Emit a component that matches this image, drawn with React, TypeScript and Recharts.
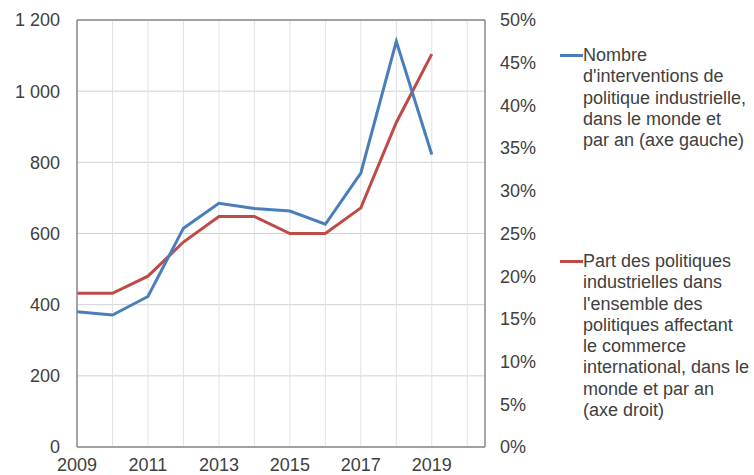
import React from 'react';
import { LineChart, Line, XAxis, YAxis, CartesianGrid, ReferenceLine } from 'recharts';

const years = [2009, 2010, 2011, 2012, 2013, 2014, 2015, 2016, 2017, 2018, 2019];
const interventions = [380, 371, 423, 615, 685, 670, 663, 626, 770, 1140, 822];
const sharePct = [18, 18, 20, 24, 27, 27, 25, 25, 28, 38, 46];
const leftTicks = [0, 200, 400, 600, 800, 1000, 1200];
const rightTicks = [0, 5, 10, 15, 20, 25, 30, 35, 40, 45, 50];
const xTickLabels = [2009, 2011, 2013, 2015, 2017, 2019];
const gridYears = [2009, 2010, 2011, 2012, 2013, 2014, 2015, 2016, 2017, 2018, 2019, 2020];
const legendLinesBlue = ["Nombre", "d'interventions de", "politique industrielle,", "dans le monde et", "par an (axe gauche)"];
const legendLinesRed = ["Part des politiques", "industrielles dans", "l'ensemble des", "politiques affectant", "le commerce", "international, dans le", "monde et par an", "(axe droit)"];

const BLUE = '#4A7EBB';
const RED = '#BE4B48';
const TEXT = '#404040';
const AXIS = '#8a8a8a';
const FONT = '"Liberation Sans", Arial, sans-serif';

const data = years.map((y, i) => ({ year: y, interventions: interventions[i], share: sharePct[i] }));

const fmtLeft = (v: number) => {
  if (v >= 1000) {
    return `${Math.floor(v / 1000)} ${String(v % 1000).padStart(3, '0')}`;
  }
  return String(v);
};

const LegendBlock = ({ top, color, lines }: { top: number; color: string; lines: string[] }) => (
  <div style={{ position: 'absolute', left: 560, top, fontFamily: FONT, fontSize: 18, lineHeight: '21.3px', color: TEXT, whiteSpace: 'nowrap' }}>
    <div style={{ position: 'absolute', left: 0, top: 9, width: 23, height: 3, background: color }} />
    <div style={{ marginLeft: 23 }}>
      {lines.map((l, i) => (
        <div key={i}>{l}</div>
      ))}
    </div>
  </div>
);

export default function App() {
  return (
    <div style={{ position: 'absolute', left: 0, top: 0, width: 754, height: 475, background: '#fff', overflow: 'hidden' }}>
      <LineChart width={754} height={475} data={data} margin={{ top: 20, right: 209, bottom: 0, left: 0 }}>
        <CartesianGrid yAxisId="left" vertical={false} stroke="#d2d2d2" horizontalValues={leftTicks} />
        <CartesianGrid yAxisId="left" horizontal={false} stroke="#e2e2e2" verticalValues={gridYears} />
        <XAxis
          dataKey="year"
          type="number"
          domain={[2009, 2020.5]}
          ticks={xTickLabels}
          interval={0}
          height={28}
          tickSize={0}
          tickMargin={11}
          axisLine={{ stroke: AXIS, strokeWidth: 1.5 }}
          tick={{ fill: TEXT, fontSize: 18, fontFamily: FONT }}
          allowDataOverflow
        />
        <YAxis
          yAxisId="left"
          orientation="left"
          domain={[0, 1200]}
          ticks={leftTicks}
          interval={0}
          width={77}
          tickSize={0}
          tickMargin={17}
          tickFormatter={fmtLeft}
          axisLine={{ stroke: AXIS, strokeWidth: 1.5 }}
          tick={{ fill: TEXT, fontSize: 18, fontFamily: FONT }}
        />
        <YAxis
          yAxisId="right"
          orientation="right"
          domain={[0, 50]}
          ticks={rightTicks}
          interval={0}
          width={60}
          tickSize={0}
          tickMargin={15}
          tickFormatter={(v: number) => `${v}%`}
          axisLine={{ stroke: AXIS, strokeWidth: 1.5 }}
          tick={{ fill: TEXT, fontSize: 18, fontFamily: FONT, textAnchor: 'start' }}
        />
        <ReferenceLine yAxisId="left" y={1200} stroke={AXIS} strokeWidth={1.5} />
        <Line
          yAxisId="right"
          type="linear"
          dataKey="share"
          stroke={RED}
          strokeWidth={3}
          dot={false}
          isAnimationActive={false}
        />
        <Line
          yAxisId="left"
          type="linear"
          dataKey="interventions"
          stroke={BLUE}
          strokeWidth={3}
          dot={false}
          isAnimationActive={false}
        />
      </LineChart>
      <LegendBlock top={45} color={BLUE} lines={legendLinesBlue} />
      <LegendBlock top={251} color={RED} lines={legendLinesRed} />
    </div>
  );
}
